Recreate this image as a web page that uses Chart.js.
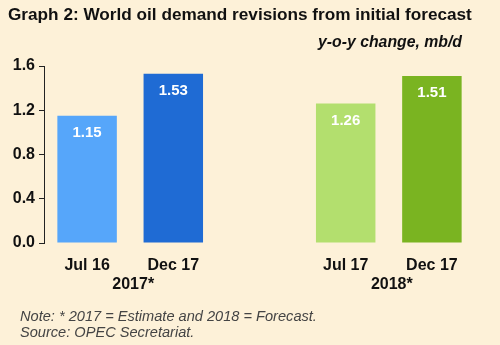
<!DOCTYPE html>
<html>
<head>
<meta charset="utf-8">
<script src="https://cdn.jsdelivr.net/npm/chart.js@4"></script>
<style>
  html, body { margin: 0; padding: 0; background: #fdf1d8; }
  #wrap { position: relative; width: 500px; height: 345px; font-family: Arial, "Liberation Sans", sans-serif; }
  #chart { position: absolute; left: 0; top: 0; }
  .title { position: absolute; left: 8px; top: 4px; font-size: 17.2px; font-weight: bold; color: #111; white-space: nowrap; }
  .unit { position: absolute; right: 38px; top: 33px; font-size: 15.8px; font-weight: bold; font-style: italic; color: #111; }
  .note { position: absolute; left: 20px; font-size: 14.6px; font-style: italic; color: #444; white-space: nowrap; }
</style>
</head>
<body>
<div id="wrap">
  <canvas id="chart" width="500" height="345"></canvas>
  <div class="title">Graph 2: World oil demand revisions from initial forecast</div>
  <div class="unit">y-o-y change, mb/d</div>
  <div class="note" style="top:308px">Note: * 2017 = Estimate and 2018 = Forecast.</div>
  <div class="note" style="top:324px">Source: OPEC Secretariat.</div>
</div>
<script>
// ── Dati ────────────────────────────────
const categories = ['Jul 16', 'Dec 17', '', 'Jul 17', 'Dec 17'];
const values = [1.15, 1.53, null, 1.26, 1.51];
const barColors = ['#56a6fa', '#1f6bd4', 'rgba(0,0,0,0)', '#b3df6e', '#7ab421'];
const groupLabels = ['2017*', '2018*'];
const groupMembers = [[0, 1], [3, 4]];
const yTicks = [0, 0.4, 0.8, 1.2, 1.6];

const FONT = 'Arial, "Liberation Sans", sans-serif';

// Etichette valori dentro le barre
const valueLabels = {
  id: 'valueLabels',
  afterDatasetsDraw(chart) {
    const ctx = chart.ctx;
    const meta = chart.getDatasetMeta(0);
    ctx.save();
    ctx.font = 'bold 15px ' + FONT;
    ctx.fillStyle = '#ffffff';
    ctx.textAlign = 'center';
    ctx.textBaseline = 'middle';
    meta.data.forEach((bar, i) => {
      if (values[i] == null) return;
      ctx.fillText(values[i].toFixed(2), bar.x, bar.y + 17);
    });
    ctx.restore();
  }
};

// Etichette di gruppo (anni) sotto le categorie
const groupAxis = {
  id: 'groupAxis',
  afterDraw(chart) {
    const ctx = chart.ctx;
    const x = chart.scales.x;
    ctx.save();
    ctx.font = 'bold 16px ' + FONT;
    ctx.fillStyle = '#111';
    ctx.textAlign = 'center';
    ctx.textBaseline = 'middle';
    groupLabels.forEach((lab, g) => {
      const idx = groupMembers[g];
      const cx = (x.getPixelForValue(idx[0]) + x.getPixelForValue(idx[idx.length - 1])) / 2 + 3;
      ctx.fillText(lab, cx, chart.chartArea.bottom + 42);
    });
    ctx.restore();
  }
};

new Chart(document.getElementById('chart').getContext('2d'), {
  type: 'bar',
  data: {
    labels: categories,
    datasets: [{
      data: values,
      backgroundColor: barColors,
      borderWidth: 0,
      barPercentage: 0.69,
      categoryPercentage: 1
    }]
  },
  options: {
    responsive: false,
    animation: false,
    layout: { padding: { top: 66, right: 25, left: 0, bottom: 0 } },
    plugins: {
      legend: { display: false },
      tooltip: { enabled: false }
    },
    scales: {
      y: {
        min: 0,
        max: 1.6,
        afterFit: s => { s.width = 44; },
        afterBuildTicks: s => { s.ticks = yTicks.map(v => ({ value: v })); },
        border: { display: true, color: '#222', width: 1 },
        grid: { display: true, drawOnChartArea: false, drawTicks: true, tickLength: 5, color: '#222' },
        ticks: {
          color: '#111',
          padding: 4,
          font: { family: FONT, size: 16, weight: 'bold' },
          callback: v => v.toFixed(1)
        }
      },
      x: {
        afterFit: s => { s.height = 102; },
        border: { display: false },
        grid: { display: false },
        ticks: {
          color: '#111',
          padding: 5,
          maxRotation: 0,
          font: { family: FONT, size: 16, weight: 'bold' }
        }
      }
    }
  },
  plugins: [valueLabels, groupAxis]
});
</script>
</body>
</html>
